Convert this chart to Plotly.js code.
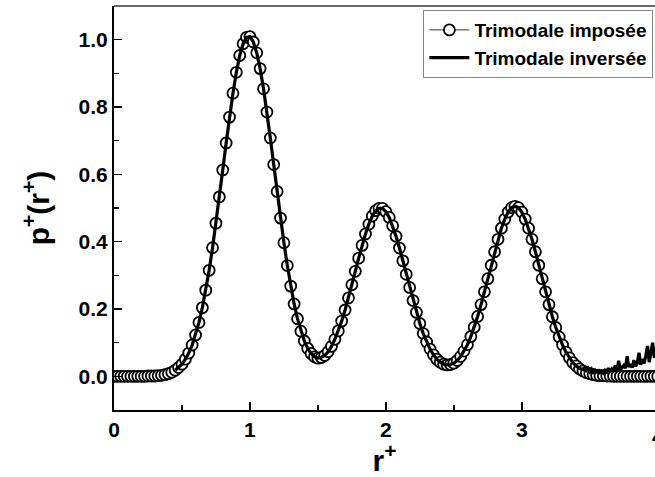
<!DOCTYPE html>
<html>
<head>
<meta charset="utf-8">
<script src="https://cdn.plot.ly/plotly-3.0.1.min.js"></script>
<style>html,body{margin:0;padding:0;background:#fff;}#chart{width:655px;height:477px;}</style>
</head>
<body>
<div id="chart"></div>
<script>
// r+ sampling of the imposed trimodal distribution (circles)
const rImposee = [
0.000,0.025,0.050,0.075,0.100,0.125,0.150,0.175,0.200,0.225,
0.250,0.275,0.300,0.325,0.350,0.375,0.400,0.425,0.450,0.475,
0.500,0.525,0.550,0.575,0.600,0.625,0.650,0.675,0.700,0.725,
0.750,0.775,0.800,0.825,0.850,0.875,0.900,0.925,0.950,0.975,
1.000,1.025,1.050,1.075,1.100,1.125,1.150,1.175,1.200,1.225,
1.250,1.275,1.300,1.325,1.350,1.375,1.400,1.425,1.450,1.475,
1.500,1.525,1.550,1.575,1.600,1.625,1.650,1.675,1.700,1.725,
1.750,1.775,1.800,1.825,1.850,1.875,1.900,1.925,1.950,1.975,
2.000,2.025,2.050,2.075,2.100,2.125,2.150,2.175,2.200,2.225,
2.250,2.275,2.300,2.325,2.350,2.375,2.400,2.425,2.450,2.475,
2.500,2.525,2.550,2.575,2.600,2.625,2.650,2.675,2.700,2.725,
2.750,2.775,2.800,2.825,2.850,2.875,2.900,2.925,2.950,2.975,
3.000,3.025,3.050,3.075,3.100,3.125,3.150,3.175,3.200,3.225,
3.250,3.275,3.300,3.325,3.350,3.375,3.400,3.425,3.450,3.475,
3.500,3.525,3.550,3.575,3.600,3.625,3.650,3.675,3.700,3.725,
3.750,3.775,3.800,3.825,3.850,3.875,3.900,3.925,3.950,3.975,
4.000
];
const pImposee = [
0,0,0,0,0,0,0,0,0,0,
0.001,0.001,0.001,0.002,0.003,0.005,0.008,0.012,0.018,0.026,
0.036,0.051,0.069,0.093,0.123,0.160,0.204,0.256,0.315,0.382,
0.455,0.533,0.613,0.693,0.770,0.841,0.903,0.953,0.988,1.007,
1.009,0.993,0.961,0.914,0.854,0.785,0.708,0.629,0.549,0.470,
0.397,0.329,0.268,0.215,0.171,0.134,0.105,0.083,0.068,0.058,
0.054,0.056,0.062,0.073,0.089,0.110,0.135,0.164,0.197,0.233,
0.272,0.312,0.351,0.389,0.423,0.452,0.476,0.492,0.499,0.499,
0.489,0.472,0.447,0.416,0.381,0.343,0.303,0.264,0.225,0.190,
0.157,0.127,0.102,0.081,0.064,0.051,0.042,0.036,0.034,0.035,
0.039,0.047,0.059,0.075,0.094,0.118,0.146,0.178,0.213,0.251,
0.290,0.330,0.370,0.407,0.440,0.467,0.488,0.501,0.505,0.501,
0.488,0.467,0.440,0.407,0.370,0.330,0.290,0.251,0.213,0.177,
0.145,0.117,0.093,0.072,0.055,0.041,0.031,0.022,0.016,0.011,
0.008,0.005,0.003,0.002,0.002,0.001,0.001,0,0,0,
0,0,0,0,0,0,0,0,0,0,
0
];
// noisy tail of the inverted distribution (line), r+ >= 3.4
const rInverseTail = [
3.4000,3.4125,3.4250,3.4375,3.4500,3.4625,3.4750,3.4875,3.5000,3.5125,
3.5250,3.5375,3.5500,3.5625,3.5750,3.5875,3.6000,3.6125,3.6250,3.6375,
3.6500,3.6625,3.6750,3.6875,3.7000,3.7125,3.7250,3.7375,3.7500,3.7625,
3.7750,3.7875,3.8000,3.8125,3.8250,3.8375,3.8500,3.8625,3.8750,3.8875,
3.9000,3.9125,3.9250,3.9375,3.9500,3.9625,3.9750,3.9875,4.0000
];
const pInverseTail = [
0.031,0.026,0.024,0.022,0.020,0.026,0.018,0.024,0.014,0.021,
0.012,0.018,0.010,0.020,0.012,0.016,0.010,0.018,0.013,0.024,
0.014,0.022,0.016,0.032,0.018,0.046,0.020,0.026,0.032,0.024,
0.060,0.028,0.036,0.026,0.048,0.030,0.040,0.070,0.034,0.052,
0.038,0.062,0.090,0.042,0.074,0.100,0.055,0.085,0.065
];
const inverseStart = 0.45;
const tailStart = 3.4;

const seriesNames = ['Trimodale imposée', 'Trimodale inversée'];
const xTickLabels = ['0','1','2','3','4'];

// inverted line: follows the imposed one between inverseStart and tailStart, then noisy tail
const rInverse = [], pInverse = [];
rImposee.forEach((r, i) => {
  if (r >= inverseStart - 1e-9 && r < tailStart - 1e-9) { rInverse.push(r); pInverse.push(pImposee[i]); }
});
rInverseTail.forEach((r, i) => { rInverse.push(r); pInverse.push(pInverseTail[i]); });

const FONT = '"Liberation Sans", Arial, Helvetica, sans-serif';

const traces = [
  {
    x: rImposee, y: pImposee, name: seriesNames[0], legendgroup: 'g1',
    type: 'scatter', mode: 'lines+markers',
    line: {color: 'black', width: 0.8},
    marker: {symbol: 'circle', size: 11, color: 'white', line: {color: 'black', width: 1.8}}
  },
  {
    x: rInverse, y: pInverse, name: seriesNames[1], legendgroup: 'g2',
    type: 'scatter', mode: 'lines',
    line: {color: 'black', width: 3.2}
  }
];

const layout = {
  width: 655, height: 477,
  margin: {l: 114, r: 0, t: 6, b: 67, pad: 0},
  paper_bgcolor: 'white', plot_bgcolor: 'white',
  font: {family: FONT, color: 'black'},
  showlegend: true,
  legend: {
    x: 0.997, xanchor: 'right', y: 0.99, yanchor: 'top',
    bordercolor: '#888', borderwidth: 1, bgcolor: 'white',
    font: {family: FONT, size: 19, weight: 'bold', color: 'black'},
    itemwidth: 40, traceorder: 'grouped', tracegroupgap: 0
  },
  xaxis: {
    range: [0, 3.98], tick0: 0, dtick: 1,
    ticks: 'inside', ticklen: 8, tickwidth: 1.5, tickcolor: 'black',
    showline: true, linewidth: 2, linecolor: 'black',
    showgrid: false, zeroline: false,
    tickfont: {family: FONT, size: 21, weight: 'bold'},
    minor: {tick0: 0, dtick: 0.5, ticks: 'inside', ticklen: 5, tickwidth: 1.5, tickcolor: 'black', showgrid: false},
    title: {text: 'r<sup>+</sup>', font: {family: FONT, size: 30, weight: 'bold'}, standoff: 6}
  },
  yaxis: {
    range: [-0.1, 1.1], tick0: 0, dtick: 0.2, tickformat: '.1f',
    ticks: 'inside', ticklen: 8, tickwidth: 1.5, tickcolor: 'black',
    showline: true, linewidth: 2, linecolor: 'black',
    showgrid: false, zeroline: false,
    tickfont: {family: FONT, size: 21, weight: 'bold'},
    minor: {tick0: 0, dtick: 0.1, ticks: 'inside', ticklen: 5, tickwidth: 1.5, tickcolor: 'black', showgrid: false},
    title: {text: 'p<sup>+</sup>(r<sup>+</sup>)', font: {family: FONT, size: 30, weight: 'bold'}, standoff: 20}
  },
  shapes: [
    {type: 'line', xref: 'paper', yref: 'paper', x0: 0, x1: 1, y0: 1, y1: 1, line: {color: '#666', width: 2}}
  ],
  annotations: [
    {xref: 'paper', yref: 'paper', x: 1.005, y: -0.033, xanchor: 'center', yanchor: 'top',
     text: xTickLabels[4], showarrow: false, font: {family: FONT, size: 21, weight: 'bold', color: 'black'}}
  ]
};

Plotly.newPlot('chart', traces, layout, {displayModeBar: false, staticPlot: true});
</script>
</body>
</html>
